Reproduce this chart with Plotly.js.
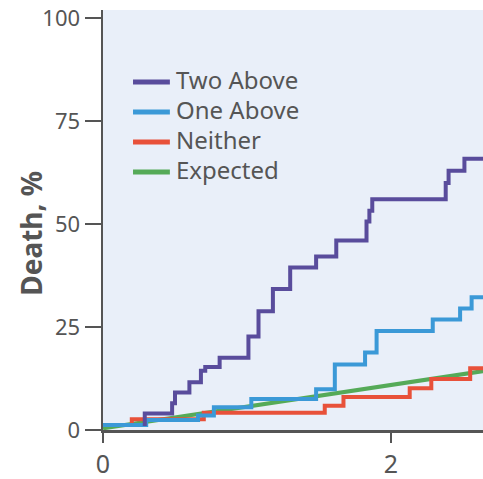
<!DOCTYPE html>
<html>
<head>
<meta charset="utf-8">
<script src="https://cdn.plot.ly/plotly-3.0.1.min.js"></script>
<style>html,body{margin:0;padding:0;background:#fff;}</style>
</head>
<body>
<div id="chart" style="width:483px;height:479px;"></div>
<script>
// Data (x in years, y in % death), step functions
const twoAboveX = [0.29, 0.29, 0.48, 0.50, 0.60, 0.68, 0.71, 0.81, 1.01, 1.08, 1.18, 1.30, 1.48, 1.62, 1.83, 1.85, 1.87, 2.38, 2.40, 2.51, 2.70];
const twoAboveY = [1.0, 4.0, 6.5, 9.1, 11.6, 14.4, 15.3, 17.5, 22.7, 28.8, 34.2, 39.4, 42.1, 46.0, 50.6, 53.2, 56.0, 59.9, 62.9, 65.8, 65.8];

const oneAboveX = [0.00, 0.30, 0.66, 0.77, 1.03, 1.48, 1.61, 1.82, 1.90, 2.29, 2.48, 2.56, 2.70];
const oneAboveY = [1.2, 2.4, 3.5, 5.5, 7.5, 9.9, 15.9, 18.8, 24.0, 26.8, 29.5, 32.2, 32.2];

const neitherX = [0.00, 0.20, 0.70, 1.54, 1.67, 2.13, 2.28, 2.55, 2.70];
const neitherY = [1.2, 2.6, 4.2, 5.9, 8.0, 10.1, 12.4, 15.0, 15.0];

const expectedX = [0.00, 2.70];
const expectedY = [0.4, 14.6];

const seriesNames = ["Two Above", "One Above", "Neither", "Expected"];
const xTickVals = [0, 2];
const xTickText = ["0", "2"];
const yTickVals = [0, 25, 50, 75, 100];
const yTickText = ["0", "25", "50", "75", "100"];

const colors = ["#594c9c", "#3b99d7", "#e8513a", "#55aa58"];

const traces = [
  {x: expectedX, y: expectedY, name: seriesNames[3], mode: "lines", line: {color: colors[3], width: 4}},
  {x: neitherX, y: neitherY, name: seriesNames[2], mode: "lines", line: {color: colors[2], width: 4, shape: "hv"}},
  {x: oneAboveX, y: oneAboveY, name: seriesNames[1], mode: "lines", line: {color: colors[1], width: 4, shape: "hv"}},
  {x: twoAboveX, y: twoAboveY, name: seriesNames[0], mode: "lines", line: {color: colors[0], width: 4, shape: "hv"}}
];

// Manual legend (positions in paper coordinates)
const legendTop = 0.8286, legendStep = 0.0714;
const shapes = [], annotations = [];
seriesNames.forEach((name, i) => {
  const yy = legendTop - i * legendStep;
  shapes.push({type: "line", xref: "paper", yref: "paper", x0: 0.079, x1: 0.176, y0: yy, y1: yy,
               line: {color: colors[i], width: 5}});
  annotations.push({text: name, xref: "paper", yref: "paper", x: 0.187, y: yy + 0.006,
                    xanchor: "left", yanchor: "middle", showarrow: false,
                    font: {size: 24, color: "#555555"}});
});
annotations.push({
  text: "<b>Death, %</b>", xref: "paper", yref: "paper",
  x: -0.190, y: 0.469, xanchor: "center", yanchor: "middle",
  textangle: -90, showarrow: false,
  font: {size: 28, color: "#555555"}
});

const layout = {
  width: 483, height: 479,
  margin: {l: 103, r: 0, t: 10, b: 49},
  paper_bgcolor: "#ffffff",
  plot_bgcolor: "#e9eff9",
  font: {family: "Noto Sans, Open Sans, sans-serif", color: "#555555"},
  showlegend: false,
  xaxis: {
    range: [0, 2.639], showgrid: false, zeroline: false,
    showline: true, linecolor: "#555555", linewidth: 2.5,
    ticks: "outside", ticklen: 10, tickwidth: 2.5, tickcolor: "#555555",
    tickvals: xTickVals, ticktext: xTickText,
    tickfont: {size: 25, color: "#555555"}, fixedrange: true
  },
  yaxis: {
    range: [0, 101.9], showgrid: false, zeroline: false,
    showline: true, linecolor: "#555555", linewidth: 2.5,
    ticks: "outside", ticklen: 16, tickwidth: 2.5, tickcolor: "#555555",
    tickvals: yTickVals, ticktext: yTickText,
    tickfont: {size: 22, color: "#555555"}, fixedrange: true
  },
  shapes: shapes,
  annotations: annotations
};

Plotly.newPlot("chart", traces, layout, {displayModeBar: false, staticPlot: true});
</script>
</body>
</html>
